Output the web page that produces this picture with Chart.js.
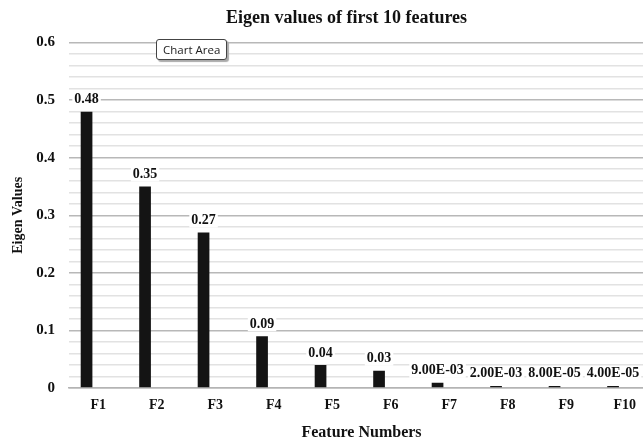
<!DOCTYPE html>
<html>
<head>
<meta charset="utf-8">
<script src="https://cdn.jsdelivr.net/npm/chart.js@4"></script>
<style>
  html, body { margin: 0; padding: 0; background: #fff; overflow: hidden; }
  #wrap { position: relative; width: 693px; height: 442px; }
  #tip {
    position: absolute; left: 156px; top: 39px;
    padding: 2px 6px 2px 6px;
    font: 11.5px "Open Sans", "DejaVu Sans", sans-serif; color: #222;
    background: #fff; border: 1px solid #444; border-radius: 3px;
    box-shadow: 2px 2px 1px #aaa; white-space: nowrap;
  }
</style>
</head>
<body>
<div id="wrap">
  <canvas id="c" width="693" height="442"></canvas>
  <div id="tip">Chart Area</div>
</div>
<script>
// Eigen values of the first ten features
const features = ['F1', 'F2', 'F3', 'F4', 'F5', 'F6', 'F7', 'F8', 'F9', 'F10'];
const eigenValues = [0.48, 0.35, 0.27, 0.09, 0.04, 0.03, 0.009, 0.002, 0.00008, 0.00004];
const valueLabels = ['0.48', '0.35', '0.27', '0.09', '0.04', '0.03', '9.00E-03', '2.00E-03', '8.00E-05', '4.00E-05'];
const yTickLabels = ['0', '0.1', '0.2', '0.3', '0.4', '0.5', '0.6'];

const serif = '"Liberation Serif", "Times New Roman", serif';

// value labels with a white backing, centred above each bar
const barLabels = {
  id: 'barLabels',
  afterDatasetsDraw(chart) {
    const ctx = chart.ctx;
    const meta = chart.getDatasetMeta(0);
    ctx.save();
    ctx.font = 'bold 14px ' + serif;
    ctx.textAlign = 'center';
    ctx.textBaseline = 'middle';
    meta.data.forEach((bar, i) => {
      const txt = valueLabels[i];
      const w = ctx.measureText(txt).width;
      const y = Math.min(bar.y, bar.base - 2) - 12;
      ctx.fillStyle = '#fff';
      ctx.fillRect(bar.x - w / 2 - 2, y - 7, w + 4, 14);
      ctx.fillStyle = '#111';
      ctx.fillText(txt, bar.x, y);
    });
    ctx.restore();
  }
};

new Chart(document.getElementById('c'), {
  type: 'bar',
  data: {
    labels: features,
    datasets: [
      { label: 'Eigen Values', data: eigenValues, backgroundColor: '#141414',
        barPercentage: 0.5, categoryPercentage: 0.8, minBarLength: 2 },
      { label: '', data: features.map(() => null), backgroundColor: 'rgba(0,0,0,0)',
        barPercentage: 0.5, categoryPercentage: 0.8 }
    ]
  },
  options: {
    responsive: false,
    animation: false,
    layout: { padding: 0 },
    plugins: {
      legend: { display: false },
      tooltip: { enabled: false },
      title: {
        display: true,
        text: 'Eigen values of first 10 features',
        color: '#111',
        font: { family: serif, size: 18, weight: 'bold' },
        padding: { top: 8, bottom: 13 }
      }
    },
    scales: {
      x: {
        grid: { display: false, drawTicks: false },
        border: { color: '#b4b4b4', width: 1.5 },
        ticks: { color: '#111', font: { family: serif, size: 14, weight: 'bold' }, padding: 9 },
        title: {
          display: true, text: 'Feature Numbers', color: '#111',
          font: { family: serif, size: 16, weight: 'bold' }, padding: { top: 9, bottom: 0 }
        },
        afterFit: (s) => { s.height = 54; }
      },
      y: {
        min: 0, max: 0.6,
        border: { display: false },
        grid: {
          drawTicks: false,
          lineWidth: 1.5,
          color: (ctx) => (ctx.index % 5 === 0 ? '#b8b8b8' : '#e2e2e2')
        },
        ticks: {
          stepSize: 0.02,
          autoSkip: false,
          padding: 14,
          color: '#111',
          font: { family: serif, size: 15, weight: 'bold' },
          callback: (v, i) => (i % 5 === 0 ? yTickLabels[i / 5] : '')
        },
        title: {
          display: true, text: 'Eigen Values', color: '#111',
          font: { family: serif, size: 14, weight: 'bold' }, padding: { top: 10, bottom: 8 }
        },
        afterFit: (s) => { s.width = 69; }
      },
      // empty strip on the right so the plot stops short of the canvas edge
      yRight: {
        position: 'right',
        display: true,
        min: 0, max: 0.6,
        grid: { display: false, drawTicks: false },
        border: { display: false },
        ticks: { display: false },
        afterFit: (s) => { s.width = 39; }
      }
    }
  },
  plugins: [barLabels]
});
</script>
</body>
</html>
